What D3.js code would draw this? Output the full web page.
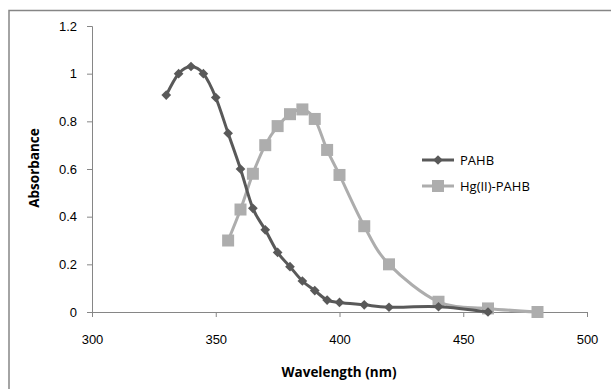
<!DOCTYPE html>
<html>
<head>
<meta charset="utf-8">
<script src="https://cdn.jsdelivr.net/npm/d3@7"></script>
<style>
  body { margin: 0; background: #fff; }
  svg { display: block; font-family: "Open Sans", "Liberation Sans", sans-serif; }
</style>
</head>
<body>
<div id="chart"></div>
<script>
// wavelengths (nm) and absorbance
const pahbX = [330, 335, 340, 345, 350, 355, 360, 365, 370, 375, 380, 385, 390, 395, 400, 410, 420, 440, 460]
const pahbY = [0.91, 1.0, 1.03, 1.0, 0.9, 0.75, 0.6, 0.435, 0.345, 0.25, 0.19, 0.13, 0.09, 0.05, 0.04, 0.03, 0.02, 0.022, 0.0]
const hgX = [355, 360, 365, 370, 375, 380, 385, 390, 395, 400, 410, 420, 440, 460, 480]
const hgY = [0.3, 0.43, 0.58, 0.7, 0.78, 0.83, 0.85, 0.81, 0.68, 0.575, 0.36, 0.2, 0.043, 0.015, 0.0]
const xTicks = [300, 350, 400, 450, 500]
const yTicks = [0, 0.2, 0.4, 0.6, 0.8, 1, 1.2]
const seriesNames = ['PAHB', 'Hg(II)-PAHB']

const width = 611, height = 389
const svg = d3.select('#chart').append('svg')
  .attr('width', width)
  .attr('height', height)

// chart frame (runs off the right and bottom edges)
svg.append('rect')
  .attr('x', 9).attr('y', 10.5)
  .attr('width', 640).attr('height', 420)
  .attr('fill', 'none')
  .attr('stroke', '#868686')
  .attr('stroke-width', 1.5)

let x = d3.scaleLinear().domain([300, 500]).range([92, 587])
let y = d3.scaleLinear().domain([0, 1.2]).range([312, 26])

let xAxis = svg.append('g')
  .attr('transform', `translate(0,${y(0)})`)
  .call(d3.axisBottom(x).tickValues(xTicks).tickSizeOuter(0).tickSize(5).tickPadding(18))
let yAxis = svg.append('g')
  .attr('transform', `translate(${x(300)},0)`)
  .call(d3.axisLeft(y).tickValues(yTicks).tickFormat(d => d3.format('~g')(d)).tickSizeOuter(0).tickSize(5).tickPadding(10))

;[xAxis, yAxis].forEach(a => {
  a.select('.domain').attr('stroke', '#868686')
  a.selectAll('.tick line').attr('stroke', '#868686')
  a.selectAll('.tick text').attr('fill', '#000').style('font-size', '13px')
})

svg.append('text')
  .attr('x', 339).attr('y', 377)
  .attr('text-anchor', 'middle')
  .style('font-size', '13.5px').style('font-weight', 'bold')
  .text('Wavelength (nm)')

svg.append('text')
  .attr('transform', 'translate(39,168) rotate(-90)')
  .attr('text-anchor', 'middle')
  .style('font-size', '13.5px').style('font-weight', 'bold')
  .text('Absorbance')

let line = d3.line()
  .x(d => x(d[0]))
  .y(d => y(d[1]))
  .curve(d3.curveCardinal.tension(0))

let colors = ['#595959', '#adadad']
let pahb = pahbX.map((v, i) => [v, pahbY[i]])
let hg = hgX.map((v, i) => [v, hgY[i]])

// Hg series first so the dark line sits on top
svg.append('path').datum(hg)
  .attr('d', line).attr('fill', 'none')
  .attr('stroke', colors[1]).attr('stroke-width', 3)
svg.append('g').selectAll('rect').data(hg).enter().append('rect')
  .attr('x', d => x(d[0]) - 6).attr('y', d => y(d[1]) - 6)
  .attr('width', 12).attr('height', 12)
  .attr('fill', colors[1])

svg.append('path').datum(pahb)
  .attr('d', line).attr('fill', 'none')
  .attr('stroke', colors[0]).attr('stroke-width', 3)
let diamond = d3.symbol().type(d3.symbolDiamond2).size(60)
svg.append('g').selectAll('path').data(pahb).enter().append('path')
  .attr('d', diamond)
  .attr('transform', d => `translate(${x(d[0])},${y(d[1])})`)
  .attr('fill', colors[0])

// legend
let legend = svg.append('g').selectAll('.legends').data(seriesNames).enter()
  .append('g').classed('legends', true)
  .attr('transform', (d, i) => `translate(422,${160 + i * 26})`)
legend.append('line')
  .attr('x1', 0).attr('x2', 32)
  .attr('stroke', (d, i) => colors[i]).attr('stroke-width', 3)
legend.filter((d, i) => i == 0).append('path')
  .attr('d', diamond).attr('transform', 'translate(16,0)')
  .attr('fill', colors[0])
legend.filter((d, i) => i == 1).append('rect')
  .attr('x', 10).attr('y', -6).attr('width', 12).attr('height', 12)
  .attr('fill', colors[1])
legend.append('text')
  .attr('x', 38).attr('y', 5)
  .style('font-size', '13px')
  .text(d => d)
</script>
</body>
</html>
